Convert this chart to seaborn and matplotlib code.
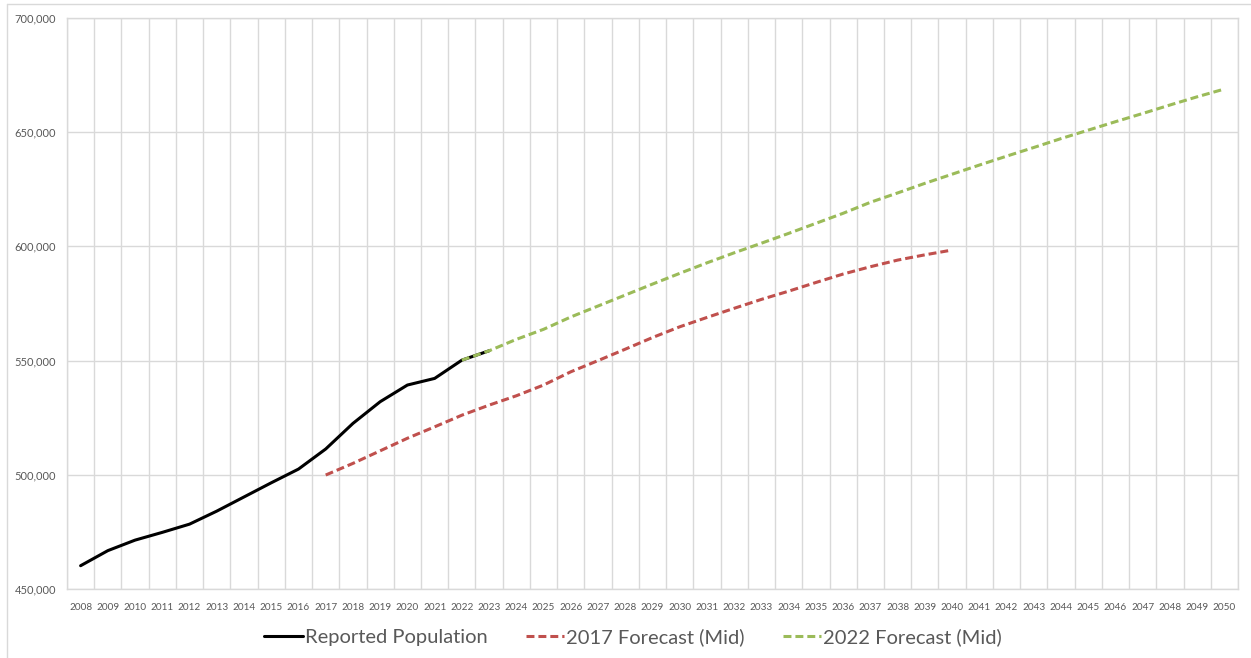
import numpy as np
import pandas as pd
import matplotlib
matplotlib.use('Agg')
import matplotlib.pyplot as plt
import seaborn as sns
from matplotlib.ticker import FuncFormatter, MultipleLocator

# --- dados ---
years_reported = list(range(2008, 2024))
reported = [460200, 466800, 471400, 474800, 478400, 484100, 490300, 496500,
            502500, 511300, 522500, 532000, 539300, 542200, 550200, 554300]

years_2017 = list(range(2017, 2041))
forecast_2017 = [499900, 505000, 510500, 516000, 521000, 526100, 530500, 534600,
                 539300, 545100, 550000, 555000, 560100, 564800, 568900, 572900,
                 576800, 580400, 584200, 587900, 591100, 594000, 596300, 598400]

years_2022 = list(range(2022, 2051))
forecast_2022 = [550200, 554300, 559300, 563700, 569100, 573900, 578700, 583500,
                 588200, 592800, 597200, 601400, 605700, 610100, 614500, 619300,
                 623400, 627600, 631600, 635600, 639500, 643300, 647200, 650900,
                 654600, 658200, 661900, 665500, 668900]

all_years = list(range(2008, 2051))
series_names = ['Reported Population', '2017 Forecast (Mid)', '2022 Forecast (Mid)']
series_colors = ['#000000', '#C0504D', '#9BBB59']

df_rep = pd.DataFrame({'Ano': years_reported, 'Pop': reported})
df_17 = pd.DataFrame({'Ano': years_2017, 'Pop': forecast_2017})
df_22 = pd.DataFrame({'Ano': years_2022, 'Pop': forecast_2022})

sns.set_style('white')
plt.rcParams['font.family'] = ['Lato', 'DejaVu Sans']

fig = plt.figure(figsize=(12.51, 6.58), dpi=100)
ax = fig.add_axes([67 / 1251, 1 - 589 / 658, (1238 - 67) / 1251, (589 - 18) / 658])

dash = (0, (2.6, 1.3))
sns.lineplot(data=df_rep, x='Ano', y='Pop', color=series_colors[0], lw=2.2,
             label=series_names[0], ax=ax, zorder=3)
sns.lineplot(data=df_17, x='Ano', y='Pop', color=series_colors[1], lw=2.2,
             linestyle=dash, label=series_names[1], ax=ax, zorder=4)
sns.lineplot(data=df_22, x='Ano', y='Pop', color=series_colors[2], lw=2.2,
             linestyle=dash, label=series_names[2], ax=ax, zorder=5)

ax.set_xlim(2007.5, 2050.5)
ax.set_ylim(450000, 700000)
ax.set_xticks(all_years)
ax.set_xticklabels([str(y) for y in all_years])
ax.xaxis.set_minor_locator(MultipleLocator(1, offset=0.5))
ax.yaxis.set_major_locator(MultipleLocator(50000))
ax.yaxis.set_major_formatter(FuncFormatter(lambda v, p: f'{int(v):,}'))

ax.grid(False)
ax.grid(True, which='minor', axis='x', color='#d9d9d9', lw=1)
ax.grid(True, which='major', axis='y', color='#d9d9d9', lw=1)
ax.tick_params(axis='x', which='both', length=0, labelsize=7.2, colors='#595959', pad=10)
ax.tick_params(axis='y', length=0, labelsize=8, colors='#595959', pad=8)
ax.set_xlabel('')
ax.set_ylabel('')
for s in ax.spines.values():
    s.set_color('#d9d9d9')
    s.set_linewidth(1)

ax.get_legend().remove()
handles, labels = ax.get_legend_handles_labels()
leg = fig.legend(handles, labels, loc='center', bbox_to_anchor=(633 / 1251, 1 - 637 / 658),
                 ncol=3, frameon=False, fontsize=14.5, handlelength=1.9,
                 handletextpad=0.1, columnspacing=1.9)
for t in leg.get_texts():
    t.set_color('#595959')

# borda da área do gráfico (estilo Excel)
fig.add_artist(plt.Line2D([6.5 / 1251, 1], [1 - 3.5 / 658, 1 - 3.5 / 658],
                          transform=fig.transFigure, color='#d9d9d9', lw=1))
fig.add_artist(plt.Line2D([6.5 / 1251, 6.5 / 1251], [0, 1 - 3.5 / 658],
                          transform=fig.transFigure, color='#d9d9d9', lw=1))

fig.savefig('out.png', dpi=100)
plt.close(fig)
